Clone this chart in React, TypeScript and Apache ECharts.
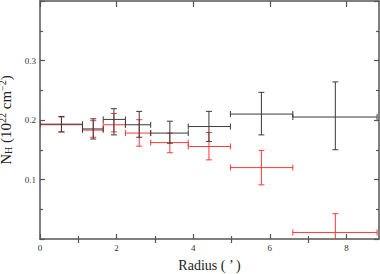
import React, { useEffect, useRef } from "react";
import * as echarts from "echarts";

// Radial bins (arcmin)
const xLow = [0, 1.11, 1.65, 2.23, 2.89, 3.87, 4.97, 6.6];
const xHigh = [1.11, 1.65, 2.23, 2.89, 3.87, 4.97, 6.6, 8.8];
const xCenter = [0.56, 1.39, 1.93, 2.59, 3.39, 4.41, 5.78, 7.71];

// Black series N_H (10^22 cm^-2)
const blackY = [0.193, 0.185, 0.201, 0.192, 0.178, 0.189, 0.21, 0.205];
const blackLo = [0.18, 0.168, 0.175, 0.171, 0.161, 0.164, 0.175, 0.15];
const blackHi = [0.206, 0.202, 0.219, 0.2145, 0.198, 0.2145, 0.2465, 0.264];

// Red series N_H (10^22 cm^-2)
const redY = [0.192, 0.183, 0.192, 0.178, 0.162, 0.1555, 0.12, 0.011];
const redLo = [0.18, 0.171, 0.18, 0.156, 0.145, 0.133, 0.091, -0.02];
const redHi = [0.205, 0.199, 0.211, 0.2005, 0.178, 0.179, 0.149, 0.0425];

const xMajor = [0, 2, 4, 6, 8];
const xMinor = [1, 3, 5, 7];

const FONT = "'Liberation Serif', 'DejaVu Serif', serif";
const AXIS_COLOR = "#555";

function buildRows(y: number[], lo: number[], hi: number[]) {
  return xCenter.map((xc, i) => [xLow[i], xHigh[i], xc, lo[i], hi[i], y[i]]);
}

function makeRender(color: string) {
  return (params: any, api: any) => {
    const xl = api.value(0), xh = api.value(1), xc = api.value(2);
    const yl = api.value(3), yh = api.value(4), yc = api.value(5);
    const pL = api.coord([xl, yc]);
    const pH = api.coord([xh, yc]);
    const pB = api.coord([xc, yl]);
    const pT = api.coord([xc, yh]);
    const c = 3;
    const style = { stroke: color, lineWidth: 1, fill: null };
    const ln = (x1: number, y1: number, x2: number, y2: number) => ({
      type: "line",
      shape: { x1, y1, x2, y2 },
      style,
    });
    return {
      type: "group",
      children: [
        ln(pL[0], pL[1], pH[0], pH[1]),
        ln(pB[0], pB[1], pT[0], pT[1]),
        ln(pL[0], pL[1] - c, pL[0], pL[1] + c),
        ln(pH[0], pH[1] - c, pH[0], pH[1] + c),
        ln(pT[0] - c, pT[1], pT[0] + c, pT[1]),
        ln(pB[0] - c, pB[1], pB[0] + c, pB[1]),
      ],
    };
  };
}

export default function App() {
  const ref = useRef<HTMLDivElement>(null);
  useEffect(() => {
    if (!ref.current) return;
    const chart = echarts.init(ref.current, undefined, { renderer: "svg" });
    const baseX = {
      type: "value",
      min: 0,
      max: 8.85,
      splitLine: { show: false },
      axisLine: { show: true, onZero: false, lineStyle: { color: AXIS_COLOR, width: 1.5 } },
    };
    const baseY = {
      type: "value",
      min: 0,
      max: 0.4,
      interval: 0.1,
      splitLine: { show: false },
      axisLine: { show: true, onZero: false, lineStyle: { color: AXIS_COLOR, width: 1.5 } },
      axisTick: { show: true, inside: true, length: 5, lineStyle: { color: AXIS_COLOR, width: 1.2 } },
      minorTick: { show: true, splitNumber: 2, length: 3, lineStyle: { color: AXIS_COLOR, width: 1.2 } },
    };
    chart.setOption({
      animation: false,
      backgroundColor: "#fff",
      grid: { left: 40, right: 1, top: 1, bottom: 35, containLabel: false, outerBoundsMode: "none" },
      xAxis: [
        {
          ...baseX,
          position: "bottom",
          name: "Radius ( ’ )",
          nameLocation: "middle",
          nameGap: 19,
          nameTextStyle: { fontSize: 14, fontFamily: FONT, color: "#222" },
          axisTick: { show: true, inside: true, length: 5, customValues: xMajor, lineStyle: { color: AXIS_COLOR, width: 1.2 } },
          axisLabel: {
            show: true,
            customValues: xMajor,
            fontSize: 9,
            fontFamily: FONT,
            color: "#333",
            margin: 4,
          },
        },
        {
          ...baseX,
          position: "bottom",
          axisLine: { show: false },
          axisTick: { show: true, inside: true, length: 3, customValues: xMinor, lineStyle: { color: AXIS_COLOR, width: 1.2 } },
          axisLabel: { show: false },
        },
        {
          ...baseX,
          position: "top",
          axisTick: { show: true, inside: true, length: 6, customValues: xMajor, lineStyle: { color: AXIS_COLOR, width: 1.2 } },
          axisLabel: { show: false },
        },
        {
          ...baseX,
          position: "top",
          axisLine: { show: false },
          axisTick: { show: true, inside: true, length: 4, customValues: xMinor, lineStyle: { color: AXIS_COLOR, width: 1.2 } },
          axisLabel: { show: false },
        },
      ],
      yAxis: [
        {
          ...baseY,
          position: "left",
          name: "{m|N}{sub|H}{m| (10}{sup|22}{m| cm}{sup|−2}{m|)}",
          nameLocation: "middle",
          nameRotate: 90,
          nameGap: 18,
          nameTextStyle: {
            color: "#222",
            fontSize: 15,
            fontFamily: FONT,
            rich: {
              m: { fontSize: 15, fontFamily: FONT, lineHeight: 16, color: "#222" },
              sub: { fontSize: 10, fontFamily: FONT, lineHeight: 10, verticalAlign: "bottom", color: "#222" },
              sup: { fontSize: 10, fontFamily: FONT, lineHeight: 5, verticalAlign: "top", color: "#222" },
            },
          },
          axisLabel: {
            show: true,
            fontSize: 9,
            fontFamily: FONT,
            color: "#333",
            margin: 4,
            formatter: (v: number) => (v <= 0.001 || v >= 0.399 ? "" : v.toFixed(1)),
          },
        },
        {
          ...baseY,
          position: "right",
          axisLabel: { show: false },
        },
      ],
      series: [
        {
          type: "custom",
          name: "red",
          xAxisIndex: 0,
          yAxisIndex: 0,
          clip: true,
          renderItem: makeRender("#ff3838"),
          encode: { x: [0, 1, 2], y: [3, 4, 5] },
          data: buildRows(redY, redLo, redHi),
          z: 2,
        },
        {
          type: "custom",
          name: "black",
          xAxisIndex: 0,
          yAxisIndex: 0,
          clip: true,
          renderItem: makeRender("#3a3a3a"),
          encode: { x: [0, 1, 2], y: [3, 4, 5] },
          data: buildRows(blackY, blackLo, blackHi),
          z: 3,
        },
      ],
    });
    return () => chart.dispose();
  }, []);
  return (
    <div
      ref={ref}
      style={{ position: "fixed", left: 0, top: 0, width: 380, height: 274 }}
    />
  );
}
